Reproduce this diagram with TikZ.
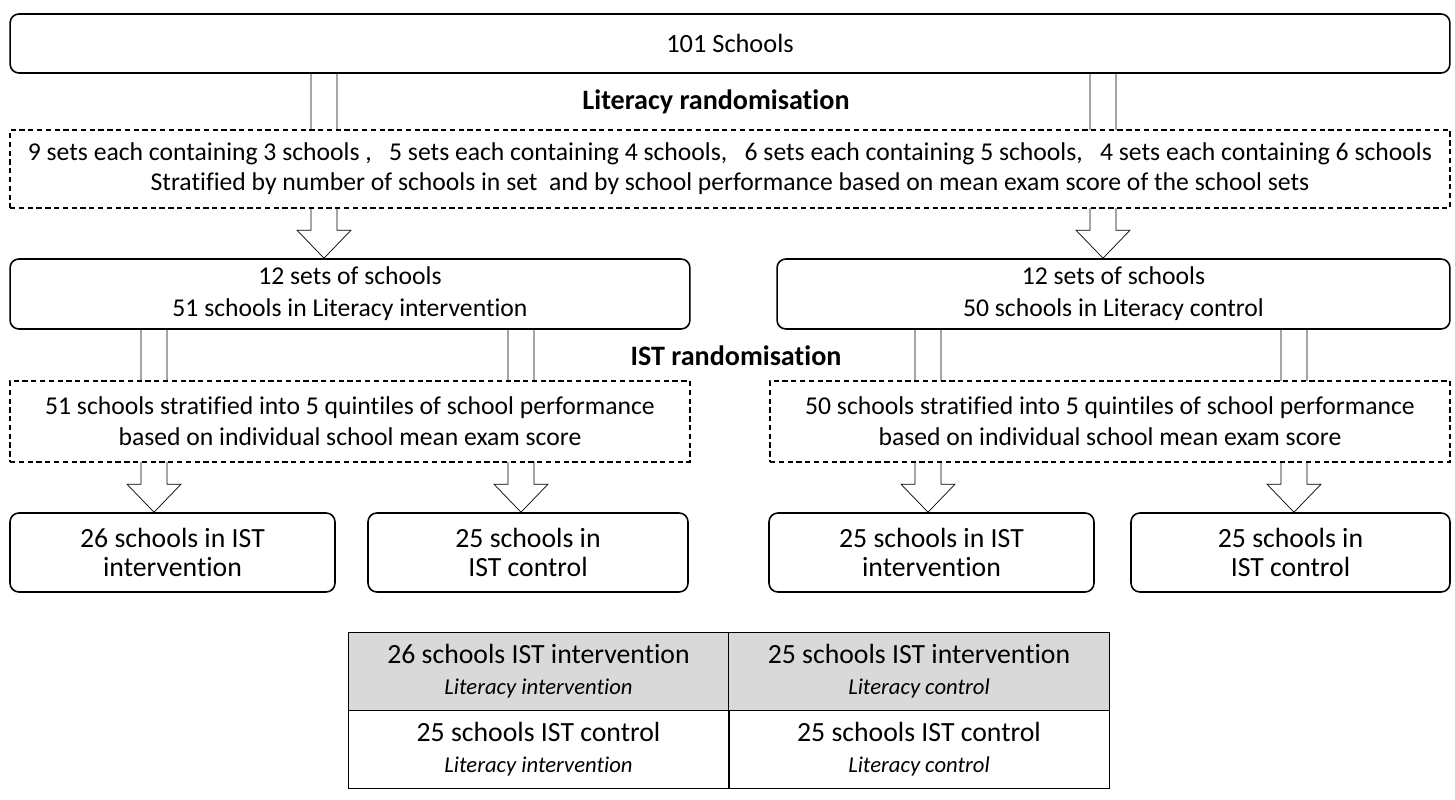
\documentclass[tikz,border=0pt]{standalone}
\usepackage{fontspec}
\setmainfont{Carlito}[Ligatures=NoCommon]
\usetikzlibrary{calc}
\pgfdeclarelayer{back}
\pgfsetlayers{back,main}
\newcommand{\blockarrow}[3]{\begin{pgfonlayer}{back}
\draw ($(#1.south -| #3)+(-13,0)$) -- ($(#2.north -| #3)+(-13,-28)$) -- ($(#2.north -| #3)+(-27,-28)$)
-- (#2.north -| #3) -- ($(#2.north -| #3)+(27,-28)$) -- ($(#2.north -| #3)+(13,-28)$) -- ($(#1.south -| #3)+(13,0)$);
\end{pgfonlayer}}
\newcommand{\lit}[1]{\\\fontsize{12.9}{17}\selectfont\itshape #1}

\begin{document}
\begin{tikzpicture}[x=0.02cm,y=-0.02cm,line width=0.9pt,
box/.style={draw,rounded corners=5pt,fill=white,align=center},
setbox/.style={draw,dash pattern=on 3pt off 2pt,fill=white,align=center},
cell/.style={draw,align=center,minimum width=7.62cm,minimum height=1.56cm,font=\fontsize{15.8}{17.5}\selectfont},
head/.style={font=\fontsize{16}{18}\selectfont\bfseries}]
\useasboundingbox (0,0) rectangle (1455,800);

% literacy level
\node[box,minimum width=28.8cm,minimum height=1.18cm,font=\fontsize{15}{18}\selectfont] (schools) at (730,43.5) {101 Schools};
\node[head] (litrand) at (716,102) {Literacy randomisation};
\node[setbox,minimum width=28.8cm,minimum height=1.56cm,font=\fontsize{14.6}{17.2}\selectfont] (sets) at (730,169)
{9 sets each containing 3 schools ,\ \ \ 5 sets each containing 4 schools,\ \ \ 6 sets each containing 5 schools,\ \ \ 4 sets each containing 6 schools\\
Stratified by number of schools in set\ \ and by school performance based on mean exam score of the school sets};
\node[box,minimum width=13.6cm,minimum height=1.4cm,font=\fontsize{14.6}{18.2}\selectfont] (litint) at (350,294)
{12 sets of schools\\51 schools in Literacy intervention};
\node[box,minimum width=13.46cm,minimum height=1.4cm,font=\fontsize{14.6}{18.2}\selectfont] (litcon) at (1113.5,294)
{12 sets of schools\\50 schools in Literacy control};

% IST level
\node[head] (istrand) at (736,356) {IST randomisation};
\node[setbox,minimum width=13.6cm,minimum height=1.62cm,font=\fontsize{14.6}{17.6}\selectfont] (qint) at (350,421.5)
{51 schools stratified into 5 quintiles of school performance\\based on individual school mean exam score};
\node[setbox,minimum width=13.6cm,minimum height=1.62cm,font=\fontsize{14.6}{17.6}\selectfont] (qcon) at (1110,421.5)
{50 schools stratified into 5 quintiles of school performance\\based on individual school mean exam score};
\node[box,minimum width=6.5cm,minimum height=1.58cm,font=\fontsize{15.8}{17}\selectfont] (ii) at (172.5,552.5) {26 schools in IST\\intervention};
\node[box,minimum width=6.4cm,minimum height=1.58cm,font=\fontsize{15.8}{17}\selectfont] (ic) at (528,552.5) {25 schools in\\IST control};
\node[box,minimum width=6.5cm,minimum height=1.58cm,font=\fontsize{15.8}{17}\selectfont] (ci) at (931.5,552.5) {25 schools in IST\\intervention};
\node[box,minimum width=6.38cm,minimum height=1.58cm,font=\fontsize{15.8}{17}\selectfont] (cc) at (1290.5,552.5) {25 schools in\\IST control};

% arrows
\coordinate (a1) at (324,0);
\coordinate (a2) at (1103,0);
\coordinate (b1) at (154,0);
\coordinate (b2) at (521,0);
\coordinate (b3) at (928,0);
\coordinate (b4) at (1294,0);
\blockarrow{schools}{litint}{a1}
\blockarrow{schools}{litcon}{a2}
\blockarrow{litint}{ii}{b1}
\blockarrow{litint}{ic}{b2}
\blockarrow{litcon}{ci}{b3}
\blockarrow{litcon}{cc}{b4}

% summary table
\node[cell,fill=gray!30] (t11) at (538.5,671) {26 schools IST intervention\lit{Literacy intervention}};
\node[cell,fill=gray!30] (t12) at (919,671) {25 schools IST intervention\lit{Literacy control}};
\node[cell] (t21) at (538.5,749) {25 schools IST control\lit{Literacy intervention}};
\node[cell] (t22) at (919,749) {25 schools IST control\lit{Literacy control}};

\end{tikzpicture}
\end{document}
